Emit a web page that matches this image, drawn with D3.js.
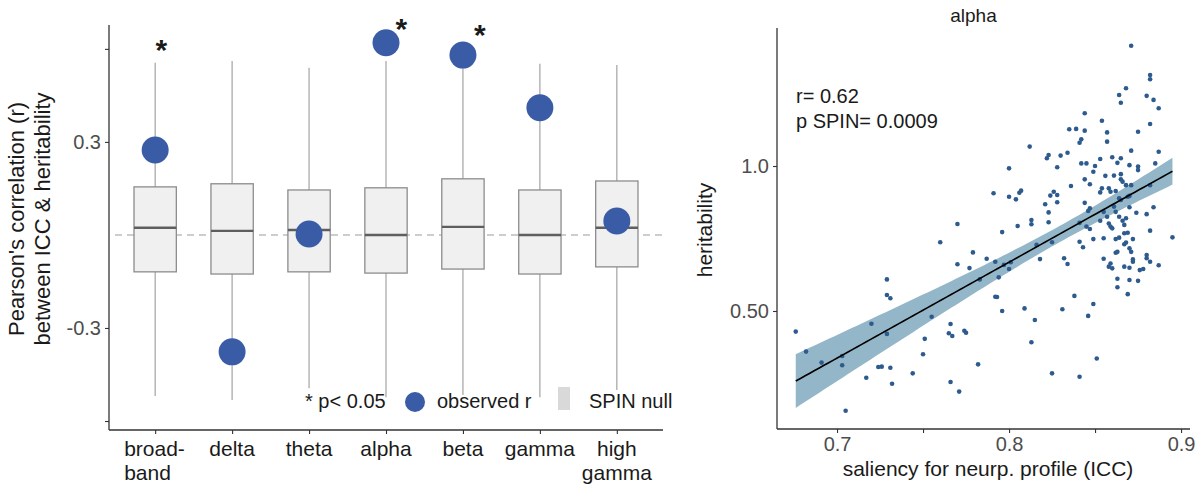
<!DOCTYPE html>
<html><head><meta charset="utf-8">
<script src="https://cdn.jsdelivr.net/npm/d3@7"></script>
<style>
body{margin:0;background:#fff}
svg{display:block}
text{font-family:"Liberation Sans",Arial,Helvetica,sans-serif}
</style>
</head><body>
<svg id="fig" width="1202" height="487"></svg>
<script>
// ---- Panel A: observed r vs SPIN null distributions per frequency band ----
const bands = ["broad-\nband", "delta", "theta", "alpha", "beta", "gamma", "high\ngamma"];
const nullMin    = [-0.519, -0.532, -0.494, -0.523, -0.516, -0.523, -0.500];
const nullQ1     = [-0.119, -0.126, -0.119, -0.123, -0.110, -0.126, -0.103];
const nullMedian = [ 0.023,  0.013,  0.016,  0.000,  0.026,  0.000,  0.023];
const nullQ3     = [ 0.155,  0.165,  0.145,  0.152,  0.181,  0.145,  0.174];
const nullMax    = [ 0.555,  0.561,  0.539,  0.561,  0.580,  0.552,  0.548];
const observedR  = [ 0.274, -0.377,  0.003,  0.620,  0.580,  0.410,  0.045];
const starLevel  = [ 0.619,   null,   null,  0.687,  0.668,   null,   null];
const starNudge  = [ 0.08,       0,      0,   0.20,   0.22,      0,      0];
const rTicks      = [-0.6, -0.3, 0.3, 0.6];
const rTickLabels = ["", "-0.3", "0.3", ""];

// ---- Panel B: alpha band, saliency (ICC) vs heritability per region ----
const iccSaliency = [
0.676,0.682,0.691,0.703,0.703,0.705,0.717,0.720,0.724,0.726,0.729,0.729,0.729,0.731,0.731,0.732,0.744,0.750,0.751,0.755,
0.760,0.765,0.767,0.766,0.766,0.770,0.771,0.774,0.775,0.777,0.779,0.782,0.783,0.787,0.792,0.792,0.793,0.794,0.796,0.796,
0.797,0.800,0.801,0.809,0.813,0.815,0.816,0.818,0.825,0.825,0.831,0.832,0.834,0.838,0.841,0.841,0.843,0.846,0.849,0.849,
0.851,0.855,0.855,0.858,0.860,0.859,0.862,0.863,0.862,0.864,0.867,0.869,0.863,0.863,0.867,0.868,0.867,0.870,0.869,0.870,
0.870,0.871,0.872,0.872,0.872,0.875,0.876,0.878,0.880,0.880,0.882,0.882,0.887,0.895,
0.871,0.882,0.882,0.868,0.864,0.865,0.880,0.884,0.887,0.882,0.875,0.857,0.857,0.871,0.887,0.860,0.865,0.863,0.870,0.875,
0.875,0.885,0.856,0.861,0.865,0.865,0.866,0.859,0.858,0.862,0.868,0.871,0.882,0.864,0.865,0.870,0.869,0.861,0.862,0.870,
0.874,0.880,0.884,0.857,0.864,0.866,0.868,0.858,0.859,0.860,0.867,
0.844,0.854,0.835,0.839,0.844,0.842,0.841,0.822,0.823,0.830,0.834,0.853,0.842,0.845,0.828,0.850,0.849,0.844,0.847,0.836,
0.854,0.853,0.826,0.824,0.828,0.821,0.828,0.844,0.823,0.847,0.846,0.855,0.841,0.853,0.823,0.845,0.847,
0.812,0.800,0.791,0.800,0.804,0.806,0.807,0.770,0.805,0.813,0.813
];
const heritability = [
0.429,0.360,0.322,0.345,0.313,0.156,0.270,0.456,0.307,0.308,0.421,0.609,0.555,0.544,0.304,0.249,0.285,0.351,0.404,0.480,
0.737,0.423,0.414,0.455,0.255,0.661,0.222,0.432,0.425,0.648,0.702,0.316,0.609,0.680,0.670,0.549,0.548,0.616,0.772,0.500,
0.659,0.645,0.668,0.509,0.392,0.469,0.728,0.679,0.285,0.737,0.506,0.682,0.662,0.552,0.273,0.739,0.720,0.483,0.524,0.748,
0.336,0.751,0.680,0.653,0.647,0.664,0.701,0.704,0.748,0.753,0.768,0.770,0.611,0.582,0.730,0.736,0.653,0.649,0.558,0.607,
0.716,0.704,0.670,0.678,0.748,0.604,0.641,0.645,0.693,0.682,0.670,0.777,0.658,0.754,
1.415,1.314,1.299,1.268,1.245,1.218,1.242,1.228,1.199,1.145,1.118,1.116,1.084,1.053,1.049,1.030,1.027,1.011,1.003,0.998,
0.986,1.009,0.966,0.967,0.972,0.954,0.946,0.911,0.923,0.914,0.934,0.934,0.934,0.889,0.883,0.897,0.894,0.860,0.842,0.858,
0.839,0.834,0.858,0.825,0.825,0.811,0.820,0.802,0.791,0.785,0.797,
1.182,1.156,1.127,1.128,1.122,1.092,1.080,1.027,1.038,1.036,1.046,1.024,1.009,1.009,0.996,1.000,0.980,0.954,0.937,0.931,
0.923,0.909,0.911,0.898,0.900,0.868,0.875,0.873,0.840,0.854,0.845,0.842,0.804,0.811,0.806,0.791,0.783,
1.067,0.992,0.906,0.894,0.885,0.908,0.915,0.800,0.793,0.814,0.799
];
const iccTicks      = [0.7, 0.75, 0.8, 0.85, 0.9];
const iccTickLabels = ["0.7", "", "0.8", "", "0.9"];
const herTicks      = [0.5, 1.0];
const herTickLabels = ["0.50", "1.0"];
const statLines     = ["r= 0.62", "p SPIN= 0.0009"];

const svg = d3.select("#fig");
const INK = "#1a1a1a", TICKTXT = "#4d4d4d", AXIS = "#333333";
const BLUE = "#3a5ca6", DOT = "#2d5b8e", BAND = "#93b6c8";

// ================= Panel A =================
const A = {left: 109, right: 663, top: 25, bottom: 430};
const xA = d3.scalePoint().domain(bands).range([A.left, A.right]).padding(0.6);
const yA = d3.scaleLinear().domain([-0.629, 0.677]).range([A.bottom, A.top]);
const boxW = xA.step() * 0.55;
const gA = svg.append("g");

// zero reference
gA.append("line")
  .attr("x1", A.left + 6).attr("x2", A.right)
  .attr("y1", yA(0)).attr("y2", yA(0))
  .attr("stroke", "#bdbdbd").attr("stroke-width", 1.5).attr("stroke-dasharray", "7,5");

const rows = bands.map((b, i) => ({b, i, lo: nullMin[i], q1: nullQ1[i], med: nullMedian[i], q3: nullQ3[i], hi: nullMax[i], r: observedR[i]}));

const box = gA.selectAll("g.box").data(rows).join("g").attr("class", "box");
box.append("line").attr("x1", d => xA(d.b)).attr("x2", d => xA(d.b))
  .attr("y1", d => yA(d.hi)).attr("y2", d => yA(d.q3)).attr("stroke", "#a3a3a3").attr("stroke-width", 1.2);
box.append("line").attr("x1", d => xA(d.b)).attr("x2", d => xA(d.b))
  .attr("y1", d => yA(d.q1)).attr("y2", d => yA(d.lo)).attr("stroke", "#a3a3a3").attr("stroke-width", 1.2);
box.append("rect").attr("x", d => xA(d.b) - boxW / 2).attr("width", boxW)
  .attr("y", d => yA(d.q3)).attr("height", d => yA(d.q1) - yA(d.q3))
  .attr("fill", "#f0f0f0").attr("stroke", "#8c8c8c").attr("stroke-width", 1.3);
box.append("line").attr("x1", d => xA(d.b) - boxW / 2).attr("x2", d => xA(d.b) + boxW / 2)
  .attr("y1", d => yA(d.med)).attr("y2", d => yA(d.med)).attr("stroke", "#5e5e5e").attr("stroke-width", 2.4);

// observed correlations
gA.selectAll("circle.obs").data(rows).join("circle").attr("class", "obs")
  .attr("cx", d => xA(d.b)).attr("cy", d => yA(d.r)).attr("r", 13.5).attr("fill", BLUE);

// significance marks
gA.selectAll("text.star").data(rows.filter(d => starLevel[d.i] !== null)).join("text").attr("class", "star")
  .attr("x", d => xA(d.b) + starNudge[d.i] * xA.step()).attr("y", d => yA(starLevel[d.i]) + 17)
  .attr("text-anchor", "middle").attr("font-size", 30).attr("font-weight", "bold").attr("fill", INK).text("*");

// axes
const axLA = gA.append("g").attr("transform", `translate(${A.left},0)`)
  .call(d3.axisLeft(yA).tickValues(rTicks).tickSize(4).tickFormat((d, i) => rTickLabels[i]));
axLA.select(".domain").attr("d", `M0,${A.top}V${A.bottom}`);
const axBA = gA.append("g").attr("transform", `translate(0,${A.bottom})`)
  .call(d3.axisBottom(xA).tickSize(4).tickFormat(""));
axBA.select(".domain").attr("d", `M${A.left},0H${A.right}`);
[axLA, axBA].forEach(ax => {
  ax.select(".domain").attr("stroke", AXIS).attr("stroke-width", 1.3);
  ax.selectAll(".tick line").attr("stroke", AXIS).attr("stroke-width", 1.1);
});
axLA.selectAll(".tick text").attr("font-size", 20).attr("fill", TICKTXT).attr("x", -8)
  .attr("font-family", "Liberation Sans, Arial, sans-serif");

// multi-line band labels
gA.selectAll("text.band").data(bands).join("text").attr("class", "band")
  .attr("x", d => xA(d)).attr("y", 456).attr("font-size", 21).attr("fill", INK)
  .attr("text-anchor", d => d.includes("\n") ? "start" : "middle")
  .each(function(d) {
    const lines = d.split("\n");
    const t = d3.select(this);
    if (lines.length > 1) t.attr("text-anchor", "middle");
    lines.forEach((ln, k) => t.append("tspan").attr("x", xA(d)).attr("dy", k === 0 ? 0 : 24).text(ln));
  });
// "broad-/band" is left aligned at its first line
gA.selectAll("text.band").filter(d => d.startsWith("broad")).attr("text-anchor", "start")
  .selectAll("tspan").attr("x", xA(bands[0]) - 31);

// y title
const yTitle = gA.append("text").attr("transform", `translate(24,219) rotate(-90)`)
  .attr("text-anchor", "middle").attr("font-size", 22).attr("fill", INK);
yTitle.append("tspan").attr("x", 0).attr("y", 0).text("Pearson's correlation (r)");
yTitle.append("tspan").attr("x", 0).attr("y", 26).text("between ICC & heritability");

// legend
const lg = gA.append("g");
lg.append("text").attr("x", 305).attr("y", 408).attr("font-size", 20).attr("fill", INK).text("* p< 0.05");
lg.append("circle").attr("cx", 415).attr("cy", 402).attr("r", 10).attr("fill", BLUE);
lg.append("text").attr("x", 437).attr("y", 408).attr("font-size", 20).attr("fill", INK).text("observed r");
lg.append("rect").attr("x", 558).attr("y", 387).attr("width", 12).attr("height", 23).attr("fill", "#d9d9d9");
lg.append("text").attr("x", 589).attr("y", 408).attr("font-size", 20).attr("fill", INK).text("SPIN null");

// ================= Panel B =================
const B = {left: 777, right: 1190, top: 28, bottom: 429};
const xB = d3.scaleLinear().domain([0.6651, 0.9052]).range([B.left, B.right]);
const yB = d3.scaleLinear().domain([0.093, 1.476]).range([B.bottom, B.top]);
const gB = svg.append("g");

const pts = iccSaliency.map((x, i) => ({x, y: heritability[i]}));

// least-squares fit with 95% confidence band
const n = pts.length;
const mx = d3.mean(pts, d => d.x), my = d3.mean(pts, d => d.y);
const sxx = d3.sum(pts, d => (d.x - mx) ** 2);
const sxy = d3.sum(pts, d => (d.x - mx) * (d.y - my));
const slope = sxy / sxx, icpt = my - slope * mx;
const s = Math.sqrt(d3.sum(pts, d => (d.y - (icpt + slope * d.x)) ** 2) / (n - 2));
const tq = 1.972;
const [xmin, xmax] = d3.extent(pts, d => d.x);
const grid = d3.range(0, 81).map(k => xmin + (xmax - xmin) * k / 80);
const fit = grid.map(x => {
  const yhat = icpt + slope * x;
  const se = s * Math.sqrt(1 / n + (x - mx) ** 2 / sxx);
  return {x, yhat, lo: yhat - tq * se, hi: yhat + tq * se};
});

gB.append("path").datum(fit).attr("fill", BAND)
  .attr("d", d3.area().x(d => xB(d.x)).y0(d => yB(d.lo)).y1(d => yB(d.hi)));

gB.selectAll("circle.pt").data(pts).join("circle").attr("class", "pt")
  .attr("cx", d => xB(d.x)).attr("cy", d => yB(d.y)).attr("r", 2.3).attr("fill", DOT);

gB.append("path").datum(fit).attr("fill", "none").attr("stroke", "#000").attr("stroke-width", 1.6)
  .attr("d", d3.line().x(d => xB(d.x)).y(d => yB(d.yhat)));

// axes
const axLB = gB.append("g").attr("transform", `translate(${B.left},0)`)
  .call(d3.axisLeft(yB).tickValues(herTicks).tickSize(4).tickFormat((d, i) => herTickLabels[i]));
axLB.select(".domain").attr("d", `M0,${B.top}V${B.bottom}`);
const axBB = gB.append("g").attr("transform", `translate(0,${B.bottom})`)
  .call(d3.axisBottom(xB).tickValues(iccTicks).tickSize(4).tickFormat((d, i) => iccTickLabels[i]));
axBB.select(".domain").attr("d", `M${B.left},0H${B.right}`);
[axLB, axBB].forEach(ax => {
  ax.select(".domain").attr("stroke", AXIS).attr("stroke-width", 1.3);
  ax.selectAll(".tick line").attr("stroke", AXIS).attr("stroke-width", 1.1);
  ax.selectAll(".tick text").attr("font-size", 20).attr("fill", TICKTXT)
    .attr("font-family", "Liberation Sans, Arial, sans-serif");
});
axLB.selectAll(".tick text").attr("x", -8);
axBB.selectAll(".tick text").attr("y", 8);

gB.append("text").attr("x", (B.left + B.right) / 2 - 10).attr("y", 22).attr("text-anchor", "middle")
  .attr("font-size", 19).attr("fill", INK).text("alpha");
gB.append("text").attr("x", 988).attr("y", 476).attr("text-anchor", "middle")
  .attr("font-size", 21).attr("fill", INK).text("saliency for neurp. profile (ICC)");
gB.append("text").attr("transform", "translate(712,230) rotate(-90)").attr("text-anchor", "middle")
  .attr("font-size", 21).attr("fill", INK).text("heritability");
gB.selectAll("text.stat").data(statLines).join("text").attr("class", "stat")
  .attr("x", 796).attr("y", (d, i) => 103 + i * 25).attr("font-size", 20).attr("fill", INK).text(d => d);
</script>
</body></html>
